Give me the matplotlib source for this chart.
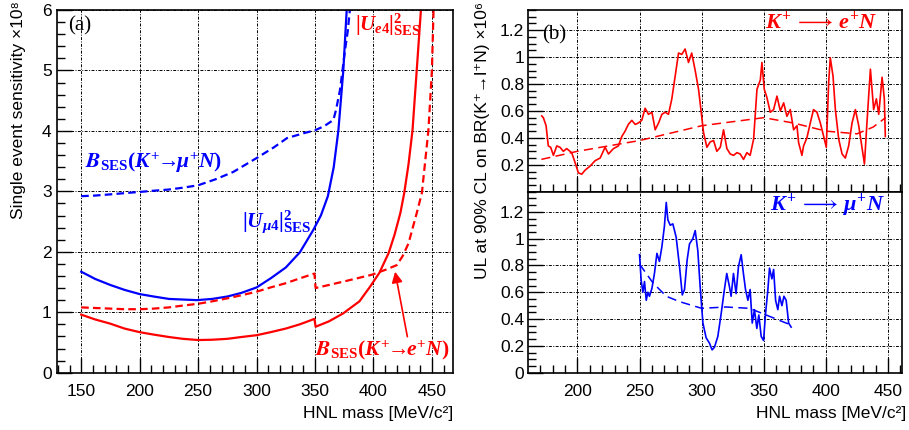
import matplotlib
matplotlib.use('Agg')
import matplotlib.pyplot as plt
from matplotlib.ticker import MultipleLocator, FixedLocator

# fonts: sans for axes, bold italic serif for the ROOT-like annotations
plt.rcParams['font.family'] = ['Liberation Sans', 'DejaVu Sans']
plt.rcParams['mathtext.fontset'] = 'custom'
plt.rcParams['mathtext.rm'] = 'Liberation Serif:bold'
plt.rcParams['mathtext.it'] = 'Liberation Serif:italic:bold'
plt.rcParams['mathtext.bf'] = 'Liberation Serif:bold'
plt.rcParams['mathtext.cal'] = 'STIXGeneral:italic:bold'

# ---- panel (a): single event sensitivity (x1e8) ----
m_umu = [150, 162, 175, 187, 200, 212, 225, 237, 249, 262, 275, 287, 300, 312, 325, 337, 348.5,
         355, 361, 366, 370, 374.2, 377.1]
u_mu = [1.67, 1.55, 1.45, 1.37, 1.30, 1.26, 1.22, 1.21, 1.20, 1.22, 1.26, 1.32, 1.41, 1.56, 1.74,
        1.99, 2.36, 2.60, 2.92, 3.40, 4.01, 5.0, 6.0]

m_bmu = [150, 162, 175, 187, 200, 212, 225, 237, 250, 265, 280, 300, 315, 326, 340, 350, 358,
         365.7, 368, 371.4, 375.7, 378, 379.8]
b_mu = [2.92, 2.93, 2.95, 2.97, 2.99, 3.01, 3.03, 3.06, 3.10, 3.20, 3.32, 3.55, 3.73, 3.88, 3.96,
        4.01, 4.08, 4.18, 4.35, 4.68, 5.34, 5.65, 6.0]

m_ue = [150, 162, 175, 187, 200, 212, 225, 237, 250, 262, 275, 287, 300, 312, 325, 337, 344, 349.5,
        350.5, 362, 374, 388, 397, 405, 413, 418, 423, 426.3, 430, 433.4, 437, 440.6]
u_e = [0.96, 0.88, 0.81, 0.73, 0.67, 0.63, 0.59, 0.56, 0.54, 0.545, 0.56, 0.59, 0.62, 0.67, 0.73,
       0.80, 0.85, 0.89, 0.76, 0.85, 0.98, 1.18, 1.42, 1.65, 1.98, 2.28, 2.64, 2.97, 3.45, 4.01,
       5.0, 6.0]

m_be = [150, 162, 175, 187, 200, 212, 225, 237, 250, 262, 275, 287, 300, 312, 325, 337, 349.5,
        350.5, 375, 398.6, 410, 420, 425, 430, 437, 441.4, 444, 447, 450, 451.4]
b_e = [1.08, 1.07, 1.06, 1.05, 1.05, 1.06, 1.08, 1.11, 1.14, 1.18, 1.23, 1.28, 1.34, 1.41, 1.48,
       1.56, 1.64, 1.40, 1.51, 1.62, 1.70, 1.78, 1.93, 2.14, 2.64, 2.97, 3.45, 4.01, 5.0, 6.0]

# ---- panel (b): UL at 90% CL (x1e6) ----
m_e = [171.3, 172.6, 174.8, 176.6, 178.5, 180.7, 183.4, 186, 188.7, 191.4, 195.4, 198, 200.8, 203.5,
       206.2, 210.2, 214.2, 218.3, 222.3, 225, 229, 233, 235.7, 238.4, 241, 243.8, 246.5, 249, 251.8,
       254.5, 257.2, 260, 262.6, 265.3, 268, 270.6, 273.3, 276, 278.7, 281.4, 284, 286.7, 289.4, 292,
       294.8, 297.5, 299.4, 301.5, 304.2, 306.9, 309.6, 312.2, 315, 317.6, 320.3, 323, 325.7, 328.4,
       331, 333.7, 336.4, 339, 341.8, 344.5, 347.2, 348.5, 350.4, 352.5, 355.2, 357.9, 360.6, 363.3,
       366, 368.6, 371.3, 374, 376.7, 378, 380.7, 382, 384.7, 387.4, 390, 392.8, 395.5, 398.2, 400.3,
       402.2, 403.5, 405.7, 407.6, 410.3, 413, 415.6, 418.3, 421, 423.7, 426.4, 429, 431, 433, 435.8,
       438.4, 440.6, 442.5, 445.2, 447, 447.8]
ul_e = [0.563, 0.55, 0.49, 0.34, 0.33, 0.27, 0.34, 0.33, 0.30, 0.32, 0.29, 0.22, 0.14, 0.13,
        0.16, 0.19, 0.23, 0.25, 0.33, 0.28, 0.32, 0.34, 0.41, 0.45, 0.50, 0.53, 0.50, 0.51, 0.53,
        0.62, 0.575, 0.59, 0.46, 0.51, 0.575, 0.59, 0.575, 0.69, 0.86, 1.03, 1.02, 1.06, 0.96, 1.03,
        0.90, 0.76, 0.61, 0.44, 0.33, 0.37, 0.38, 0.30, 0.33, 0.46, 0.32, 0.28, 0.27, 0.29,
        0.28, 0.24, 0.29, 0.27, 0.39, 0.76, 0.83, 0.96, 0.76, 0.70, 0.59, 0.61, 0.71, 0.60,
        0.66, 0.56, 0.61, 0.46, 0.49, 0.365, 0.27, 0.34, 0.40, 0.51, 0.61, 0.59, 0.51, 0.41, 0.33,
        0.81, 0.995, 0.86, 0.61, 0.39, 0.28, 0.25, 0.34, 0.51, 0.61, 0.49, 0.33, 0.205, 0.51, 0.91,
        0.61, 0.69, 0.575, 0.85, 0.69, 0.41]
m_e_exp = [171, 200, 250, 300, 350, 374, 400, 425, 438, 448]
ul_e_exp = [0.24, 0.30, 0.38, 0.49, 0.55, 0.51, 0.45, 0.43, 0.48, 0.55]

m_mu = [250, 251.3, 252.7, 254, 255.4, 256.7, 258, 260, 262, 264, 266, 268, 270, 271.5, 272.8,
        274.7, 276.8, 279.5, 282.2, 284.4, 286.2, 288.3, 290.2, 292.9, 294.8, 296.9, 298.8, 301,
        303.6, 306.3, 308.4, 310.3, 313, 315.7, 318.3, 320.2, 322.4, 323.7, 325.6, 327.7, 329.6,
        331.8, 333.6, 335.3, 337.2, 339, 340.7, 342.5, 344.4, 346, 347.9, 349.8, 351.4, 353.3,
        354.6, 356.5, 357.9, 359.5, 361.3, 362.7, 364.6, 366.2, 368, 370, 372]
ul_mu = [0.88, 0.69, 0.60, 0.68, 0.54, 0.60, 0.57, 0.63, 0.74, 0.89, 0.83, 0.94, 1.09, 1.27, 1.14,
         1.10, 1.11, 1.01, 0.79, 0.58, 0.62, 0.84, 0.96, 1.00, 1.06, 0.91, 0.64, 0.37,
         0.26, 0.22, 0.17, 0.19, 0.27, 0.44, 0.62, 0.74, 0.64, 0.57, 0.74, 0.59, 0.79,
         0.88, 0.74, 0.62, 0.54, 0.62, 0.37, 0.47, 0.33, 0.43, 0.27, 0.24, 0.44, 0.62,
         0.78, 0.70, 0.77, 0.54, 0.47, 0.57, 0.50, 0.57, 0.54, 0.37, 0.34]
m_mu_exp = [250, 260.8, 271.5, 282.2, 300, 319.6, 338.5, 352, 372]
ul_mu_exp = [0.81, 0.67, 0.57, 0.53, 0.48, 0.49, 0.48, 0.43, 0.355]

RED = '#ff0000'
BLUE = '#0000ff'
GRID = (0, (3, 1.5, 1, 1.5))


def style(ax):
    ax.tick_params(which='both', direction='in', top=False, right=False, width=1, labelsize=12.5)
    ax.tick_params(which='major', length=11)
    ax.tick_params(which='minor', length=6)
    ax.tick_params(axis='x', pad=8)
    ax.tick_params(axis='y', pad=4)
    ax.grid(True, which='major', color='black', linestyle=GRID, linewidth=0.7)
    ax.set_axisbelow(True)
    for s in ax.spines.values():
        s.set_linewidth(1.2)


fig = plt.figure(figsize=(9.09, 4.3), dpi=100)
axa = fig.add_axes([0.0630, 0.1333, 0.4353, 0.8435])
axt = fig.add_axes([0.5812, 0.5542, 0.4108, 0.4226])
axb = fig.add_axes([0.5812, 0.1333, 0.4108, 0.4209])

# panel (a)
axa.plot(m_umu, u_mu, color=BLUE, lw=1.6)
axa.plot(m_bmu, b_mu, color=BLUE, lw=1.6, linestyle=(0, (3.4, 1.9)))
axa.plot(m_ue, u_e, color=RED, lw=1.6)
axa.plot(m_be, b_e, color=RED, lw=1.6, linestyle=(0, (3.4, 1.9)))
axa.set_xlim(129.5, 468)
axa.set_ylim(0, 6)
axa.xaxis.set_major_locator(MultipleLocator(50))
axa.xaxis.set_minor_locator(MultipleLocator(10))
axa.yaxis.set_major_locator(MultipleLocator(1))
axa.yaxis.set_minor_locator(MultipleLocator(0.2))
style(axa)
axa.set_xlabel('HNL mass [MeV/c²]', loc='right', fontsize=12.5, labelpad=5)
axa.set_ylabel('Single event sensitivity ×10⁸', loc='top', fontsize=12.5)
axa.yaxis.set_label_coords(-0.08, 1.025)

axa.text(0.027, 0.955, '(a)', transform=axa.transAxes, family='Liberation Serif',
         fontsize=15, va='center', ha='left')
axa.text(153, 3.47, r'$\mathcal{B}_{\mathrm{SES}}(K^{+}\!\!\rightarrow\!\!\mu^{+}N)$',
         color=BLUE, fontsize=15.5, va='center', ha='left')
axa.text(287.4, 2.49, r'$|U_{\mu 4}|^{2}_{\mathrm{SES}}$', color=BLUE, fontsize=15.5,
         va='center', ha='left')
axa.text(384, 5.75, r'$|U_{e 4}|^{2}_{\mathrm{SES}}$', color=RED, fontsize=15,
         va='center', ha='left')
axa.text(350, 0.37, r'$\mathcal{B}_{\mathrm{SES}}(K^{+}\!\!\rightarrow\!\!e^{+}N)$',
         color=RED, fontsize=15.5, va='center', ha='left')
axa.annotate('', xy=(418.5, 1.67), xytext=(429, 0.595),
             arrowprops=dict(arrowstyle='-|>', color=RED, lw=1.2, mutation_scale=16,
                             shrinkA=0, shrinkB=0))

# panel (b), top: electron channel
axt.plot(m_e, ul_e, color=RED, lw=1.2)
axt.plot(m_e_exp, ul_e_exp, color=RED, lw=1.1, linestyle=(0, (6, 3.5)))
# bottom: muon channel
axb.plot(m_mu, ul_mu, color=BLUE, lw=1.2)
axb.plot(m_mu_exp, ul_mu_exp, color=BLUE, lw=1.1, linestyle=(0, (6, 3.5)))

for ax in (axt, axb):
    ax.set_xlim(160.5, 461)
    ax.set_ylim(0, 1.35)
    ax.xaxis.set_major_locator(MultipleLocator(50))
    ax.xaxis.set_minor_locator(MultipleLocator(10))
    ax.yaxis.set_minor_locator(MultipleLocator(0.05))
    style(ax)
    ax.tick_params(axis='y', pad=3)

axt.yaxis.set_major_locator(FixedLocator([0.2, 0.4, 0.6, 0.8, 1.0, 1.2]))
axb.yaxis.set_major_locator(FixedLocator([0, 0.2, 0.4, 0.6, 0.8, 1.0, 1.2]))
axt.tick_params(axis='x', labelbottom=False)
for ax in (axt, axb):
    ax.yaxis.set_major_formatter(plt.FuncFormatter(lambda v, p: '%g' % round(v, 2)))

axb.set_xlabel('HNL mass [MeV/c²]', loc='right', fontsize=12.5, labelpad=5)
axb.xaxis.label.set_x(1.013)
fig.text(0.531, 0.995, 'UL at 90% CL on BR(K⁺→l⁺N) ×10⁶', rotation=90,
         fontsize=12.5, ha='center', va='top')

axt.text(0.037, 0.862, '(b)', transform=axt.transAxes, family='Liberation Serif',
         fontsize=15, va='center', ha='left')
axt.text(0.935, 0.934, r'$K^{+}\,\longrightarrow\,e^{+}N$', transform=axt.transAxes, color=RED,
         fontsize=16, va='center', ha='right')
axb.text(0.955, 0.927, r'$K^{+}\,\longrightarrow\,\mu^{+}N$', transform=axb.transAxes, color=BLUE,
         fontsize=16, va='center', ha='right')

fig.savefig('out.png', dpi=100)
